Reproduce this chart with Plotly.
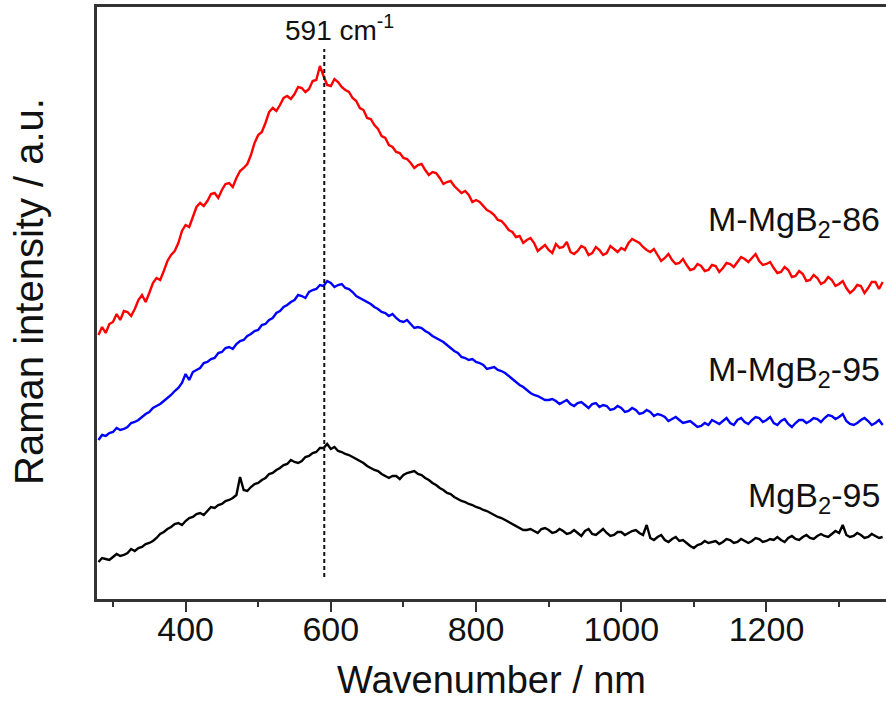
import plotly.graph_objects as go

# Sample positions (cm-1), one every 5 cm-1 from 280 to 1360
wavenumber = list(range(280, 1365, 5))

# Intensities (arbitrary units), rows of 100 cm-1
m_mgb2_86 = [
    264, 272, 266, 275, 277, 285, 279, 288, 287, 283, 290, 299, 304, 297, 306, 316, 321, 319, 328, 338,
    344, 348, 356, 368, 374, 372, 382, 392, 396, 393, 398, 405, 406, 401, 409, 415, 416, 412, 421, 428,
    431, 435, 444, 456, 464, 467, 476, 487, 491, 488, 494, 501, 503, 500, 505, 512, 511, 507, 510, 518,
    519, 533, 523, 514, 513, 520, 517, 512, 509, 507, 501, 498, 491, 489, 481, 480, 474, 470, 463, 461,
    454, 452, 447, 446, 441, 440, 436, 431, 434, 435, 429, 424, 427, 426, 421, 415, 417, 418, 413, 409,
    406, 408, 404, 397, 399, 397, 393, 389, 387, 384, 379, 378, 374, 369, 367, 362, 363, 356, 359, 361,
    356, 348, 351, 354, 349, 346, 355, 351, 352, 357, 347, 345, 348, 353, 351, 344, 346, 352, 349, 344,
    346, 353, 350, 347, 351, 349, 356, 360, 358, 356, 352, 349, 347, 350, 344, 338, 341, 345, 339, 335,
    336, 340, 334, 329, 330, 335, 333, 328, 329, 334, 333, 327, 331, 336, 335, 332, 337, 342, 340, 337,
    341, 345, 338, 334, 335, 337, 331, 326, 327, 332, 329, 322, 323, 328, 325, 318, 319, 324, 321, 315,
    317, 322, 319, 313, 315, 318, 311, 306, 309, 314, 313, 306, 311, 317, 317, 310,
    317]

m_mgb2_95 = [
    159, 164, 163, 166, 167, 171, 169, 170, 172, 176, 177, 179, 182, 185, 187, 191, 193, 195, 198, 201,
    204, 208, 211, 216, 225, 219, 227, 229, 231, 236, 237, 240, 241, 246, 247, 251, 252, 250, 255, 258,
    259, 263, 265, 268, 269, 274, 275, 279, 281, 286, 288, 292, 294, 297, 299, 304, 303, 301, 307, 309,
    310, 314, 313, 318, 316, 312, 314, 315, 311, 310, 307, 303, 301, 299, 297, 295, 292, 290, 287, 286,
    283, 285, 281, 278, 277, 279, 275, 271, 272, 271, 268, 266, 263, 261, 259, 257, 254, 251, 248, 246,
    242, 241, 239, 240, 237, 236, 234, 230, 231, 232, 229, 228, 226, 223, 220, 217, 214, 212, 209, 206,
    204, 203, 201, 199, 199, 200, 198, 195, 197, 199, 195, 193, 196, 197, 194, 191, 195, 196, 192, 194,
    193, 189, 190, 193, 191, 187, 188, 191, 189, 185, 186, 189, 187, 183, 185, 184, 182, 178, 180, 182,
    179, 176, 177, 178, 175, 172, 173, 176, 174, 179, 177, 175, 178, 181, 176, 174, 179, 181, 177, 175,
    179, 182, 181, 177, 179, 182, 176, 174, 178, 180, 175, 172, 176, 179, 179, 176, 178, 181, 180, 177,
    181, 184, 183, 180, 182, 185, 178, 175, 174, 176, 179, 181, 178, 174, 176, 179,
    174]

mgb2_95 = [
    37, 41, 40, 39, 42, 45, 43, 44, 46, 50, 48, 51, 52, 55, 56, 58, 61, 65, 67, 70,
    72, 75, 76, 74, 78, 81, 82, 85, 86, 84, 88, 92, 91, 94, 95, 98, 99, 101, 104, 122,
    109, 108, 112, 115, 116, 119, 121, 125, 126, 129, 131, 134, 135, 139, 137, 136, 138, 142, 143, 146,
    147, 151, 151, 155, 150, 152, 148, 147, 145, 144, 142, 140, 138, 136, 133, 131, 129, 128, 125, 123,
    121, 123, 123, 120, 124, 126, 127, 128, 125, 124, 121, 119, 116, 114, 111, 109, 106, 105, 102, 100,
    98, 97, 95, 94, 92, 91, 89, 88, 86, 84, 82, 81, 79, 77, 75, 73, 71, 69, 69, 70,
    68, 66, 70, 71, 69, 66, 67, 70, 68, 65, 66, 69, 66, 63, 68, 70, 65, 64, 67, 70,
    66, 63, 64, 67, 67, 64, 66, 68, 69, 66, 64, 74, 61, 59, 62, 64, 59, 57, 60, 62,
    58, 59, 56, 53, 51, 54, 55, 58, 56, 57, 58, 55, 57, 60, 59, 56, 57, 60, 58, 56,
    58, 61, 60, 57, 58, 60, 59, 62, 59, 57, 61, 63, 60, 59, 62, 64, 61, 60, 63, 65,
    63, 62, 65, 68, 66, 74, 64, 62, 63, 66, 64, 61, 62, 65, 63, 61,
    62]

for arr in (m_mgb2_86, m_mgb2_95, mgb2_95):
    if len(arr) != len(wavenumber):
        raise ValueError(f"length mismatch {len(arr)} vs {len(wavenumber)}")

series_names = ["M-MgB<sub>2</sub>-86", "M-MgB<sub>2</sub>-95", "MgB<sub>2</sub>-95"]
series_colors = ["#ff0000", "#0000ff", "#000000"]
label_y = [378, 228, 102]
peak_position = 591
peak_label = "591 cm<sup>-1</sup>"
x_ticks = [400, 600, 800, 1000, 1200]

FONT = "Liberation Sans, Arial, sans-serif"

fig = go.Figure()
for name, vals, col in zip(series_names, [m_mgb2_86, m_mgb2_95, mgb2_95], series_colors):
    fig.add_trace(go.Scatter(x=wavenumber, y=vals, mode="lines", name=name,
                             line=dict(color=col, width=2.4), showlegend=False))

for name, ly in zip(series_names, label_y):
    fig.add_annotation(x=1, xref="paper", y=ly, yref="y", text=name, showarrow=False,
                       xanchor="right", yanchor="middle", xshift=-4,
                       font=dict(family=FONT, size=34, color="#111"))

fig.add_shape(type="line", x0=peak_position, x1=peak_position, y0=22, y1=550, xref="x", yref="y",
              line=dict(color="#111", width=2, dash="4px,3px"))
fig.add_annotation(x=peak_position, y=571, xref="x", yref="y", text=peak_label, showarrow=False,
                   xanchor="center", yanchor="middle", xshift=15,
                   font=dict(family=FONT, size=28, color="#111"))

fig.add_annotation(x=0.5, xref="paper", y=-0.137, yref="paper", text="Wavenumber / nm", showarrow=False,
                   xanchor="center", yanchor="middle", font=dict(family=FONT, size=38, color="#111"))
fig.add_annotation(x=-0.086, xref="paper", y=0.519, yref="paper", text="Raman intensity / a.u.",
                   showarrow=False, textangle=-90, xanchor="center", yanchor="middle",
                   font=dict(family=FONT, size=40, color="#111"))

fig.update_layout(
    width=886, height=715,
    margin=dict(l=97, r=0, t=7, b=116),
    paper_bgcolor="white", plot_bgcolor="white",
    font=dict(family=FONT, color="#111"),
)
fig.update_xaxes(range=[278, 1364.6], tickvals=x_ticks, ticks="outside", ticklen=10, tickwidth=2,
                 tickcolor="#333", showline=True, linewidth=2.5, linecolor="#333", mirror=True,
                 showgrid=False, zeroline=False, ticklabelstandoff=-12,
                 tickfont=dict(family=FONT, size=34, color="#111"),
                 minor=dict(dtick=100, tick0=300, ticks="outside", ticklen=5, tickwidth=2, tickcolor="#333"))
fig.update_yaxes(range=[0, 592], showticklabels=False, ticks="", showline=True, linewidth=2.5,
                 linecolor="#333", mirror=False, showgrid=False, zeroline=False)

fig.write_html("out.html", config={"displayModeBar": False},
               post_script="document.body.style.margin='0';document.body.style.overflow='hidden';")
